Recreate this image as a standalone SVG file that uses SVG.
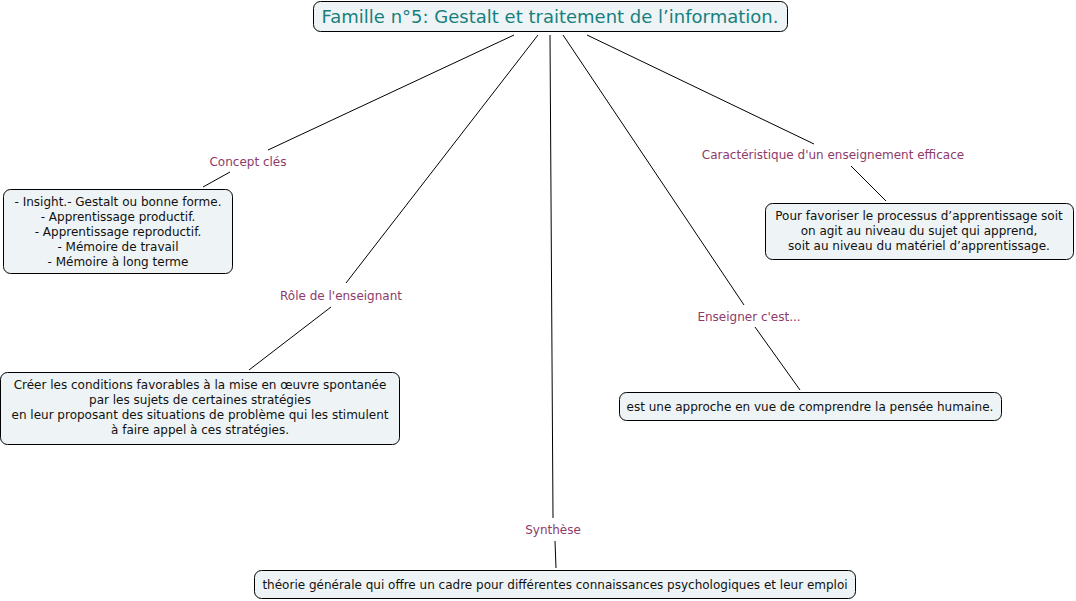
<svg xmlns="http://www.w3.org/2000/svg" width="1076" height="601" viewBox="0 0 1076 601">
<style>
.box{fill:#eef4f5;stroke:#000;stroke-width:1}
.t{font-family:"DejaVu Sans",Verdana,sans-serif;font-size:12px;fill:#111;text-anchor:middle}
.lbl{font-family:"DejaVu Sans",Verdana,sans-serif;font-size:12px;fill:#8e3a6a;text-anchor:middle}
.title{font-family:"DejaVu Sans",Verdana,sans-serif;font-size:18px;fill:#17807e;text-anchor:middle}
.c line{stroke:#000;stroke-width:1}
</style>
<rect width="1076" height="601" fill="#fff"/>
<g class="c" id="connectors">
<line x1="514" y1="35" x2="268" y2="150"/>
<line x1="230" y1="172" x2="203" y2="187"/>
<line x1="538" y1="35" x2="346" y2="283"/>
<line x1="331" y1="307" x2="249" y2="370"/>
<line x1="550" y1="35" x2="553" y2="518"/>
<line x1="555" y1="541" x2="556" y2="568"/>
<line x1="563" y1="35" x2="744" y2="305"/>
<line x1="755" y1="327" x2="800" y2="390"/>
<line x1="587" y1="35" x2="814" y2="144"/>
<line x1="851" y1="166" x2="886" y2="201"/>
</g>
<g id="labels">
<text class="lbl" x="248" y="166">Concept clés</text>
<text class="lbl" x="341" y="300">Rôle de l'enseignant</text>
<text class="lbl" x="553" y="534">Synthèse</text>
<text class="lbl" x="749" y="321">Enseigner c'est...</text>
<text class="lbl" x="833" y="159">Caractéristique d'un enseignement efficace</text>
</g>
<g id="title">
<rect class="box" x="313.5" y="1.5" width="474" height="30" rx="7"/>
<text class="title" x="550" y="23">Famille n°5: Gestalt et traitement de l’information.</text>
</g>
<g id="concept">
<rect class="box" x="3.5" y="189.5" width="229" height="84" rx="7"/>
<text class="t" x="118" y="206">- Insight.- Gestalt ou bonne forme.</text>
<text class="t" x="118" y="221">- Apprentissage productif.</text>
<text class="t" x="118" y="236">- Apprentissage reproductif.</text>
<text class="t" x="118" y="251">- Mémoire de travail</text>
<text class="t" x="118" y="266">- Mémoire à long terme</text>
</g>
<g id="role">
<rect class="box" x="0.5" y="372.5" width="399" height="72" rx="7"/>
<text class="t" x="200" y="389">Créer les conditions favorables à la mise en œuvre spontanée</text>
<text class="t" x="200" y="404">par les sujets de certaines stratégies</text>
<text class="t" x="200" y="419">en leur proposant des situations de problème qui les stimulent</text>
<text class="t" x="200" y="434">à faire appel à ces stratégies.</text>
</g>
<g id="caracteristique">
<rect class="box" x="765.5" y="203.5" width="308" height="56" rx="7"/>
<text class="t" x="919" y="220">Pour favoriser le processus d’apprentissage soit</text>
<text class="t" x="919" y="235">on agit au niveau du sujet qui apprend,</text>
<text class="t" x="919" y="250">soit au niveau du matériel d’apprentissage.</text>
</g>
<g id="enseigner">
<rect class="box" x="619.5" y="392.5" width="382" height="28" rx="7"/>
<text class="t" x="810" y="411">est une approche en vue de comprendre la pensée humaine.</text>
</g>
<g id="synthese">
<rect class="box" x="254.5" y="570.5" width="601" height="28" rx="7"/>
<text class="t" x="555" y="589">théorie générale qui offre un cadre pour différentes connaissances psychologiques et leur emploi</text>
</g>
</svg>
